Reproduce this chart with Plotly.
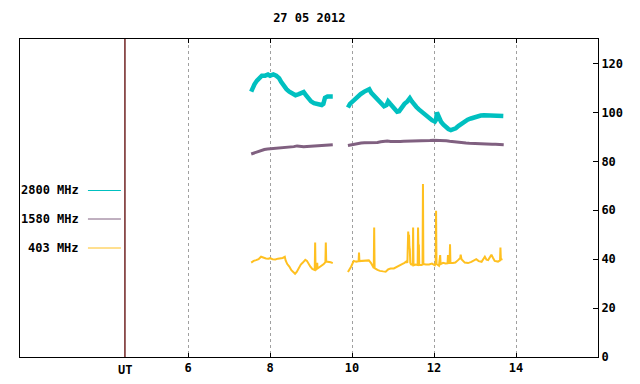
import plotly.graph_objects as go

TITLE = "27 05 2012"
UT_POS = 4.46
X_TICKS = [6, 8, 10, 12, 14]
Y_TICKS = [0, 20, 40, 60, 80, 100, 120]

# 2800 MHz
t2800_a = [7.54, 7.57, 7.62, 7.68, 7.74, 7.80, 7.88, 7.95, 8.00, 8.08, 8.15, 8.22, 8.27, 8.33, 8.40,
           8.47, 8.55, 8.62, 8.70, 8.77, 8.82, 8.88, 8.94, 9.00, 9.07, 9.14, 9.20, 9.26, 9.30, 9.34,
           9.40, 9.47, 9.53]
v2800_a = [108.5, 110.0, 111.5, 113, 114, 115, 115, 115.5, 115, 115.5, 115, 114, 112.5, 111, 109.5,
           108.5, 107.5, 107, 107.5, 108, 108.3, 107, 105.5, 104.5, 103.8, 103.6, 103.5, 103, 103.5, 106,
           106.5, 106.5, 106.5]
t2800_b = [9.90, 9.95, 10.05, 10.13, 10.21, 10.30, 10.37, 10.42, 10.47, 10.53, 10.60, 10.66, 10.72, 10.78,
           10.84, 10.88, 10.93, 10.98, 11.04, 11.10, 11.15, 11.21, 11.28, 11.35, 11.41, 11.46, 11.51, 11.57,
           11.63, 11.70, 11.76, 11.82, 11.88, 11.95, 12.02, 12.05, 12.07, 12.10, 12.17, 12.23, 12.29, 12.35,
           12.41, 12.47, 12.53, 12.60, 12.67, 12.74, 12.82, 12.90, 12.98, 13.06, 13.14, 13.22, 13.31, 13.39,
           13.47, 13.55, 13.63, 13.69]
v2800_b = [102, 103.5, 105, 106.5, 107.5, 108.5, 109.2, 109.5, 108, 107, 106, 104.8, 103.5, 102.5,
           103, 104.5, 103.5, 102.5, 100.8, 100.3, 100.5, 102, 103.5, 104.5, 105.8, 104.5, 103.2, 102.2,
           101.2, 100.2, 99.2, 98.2, 97.5, 96.8, 96.2, 97, 100, 98.5, 96.2, 95, 94, 93.2,
           92.8, 93, 93.5, 94.5, 95.3, 96.3, 97, 97.5, 98, 98.5, 98.7, 98.8, 98.7, 99,
           98.8, 98.8, 98.7, 98.5]

# 1580 MHz
t1580_a = [7.54, 7.62, 7.70, 7.78, 7.86, 7.94, 8.02, 8.10, 8.18, 8.26, 8.34, 8.42, 8.50, 8.58, 8.66,
           8.74, 8.82, 8.90, 8.98, 9.06, 9.14, 9.22, 9.30, 9.38, 9.46, 9.53]
v1580_a = [83.0, 83.5, 83.8, 84.3, 84.8, 85.0, 85.1, 85.2, 85.4, 85.6, 85.7, 85.8, 85.9, 86.0, 86.3,
           86.1, 86.0, 86.1, 86.2, 86.2, 86.3, 86.4, 86.5, 86.5, 86.6, 86.8]
t1580_b = [9.90, 9.98, 10.06, 10.14, 10.22, 10.30, 10.38, 10.46, 10.54, 10.62, 10.70, 10.78, 10.86, 10.94,
           11.02, 11.10, 11.18, 11.26, 11.34, 11.42, 11.50, 11.58, 11.66, 11.74, 11.82, 11.90, 11.98, 12.06,
           12.14, 12.22, 12.30, 12.38, 12.46, 12.54, 12.62, 12.70, 12.78, 12.86, 12.94, 13.02, 13.10, 13.18,
           13.26, 13.34, 13.42, 13.50, 13.58, 13.66, 13.70]
v1580_b = [86.5, 86.8, 87.0, 87.3, 87.5, 87.6, 87.6, 87.7, 87.5, 87.7, 88.0, 88.3, 88.3, 88.1,
           88.0, 88.0, 88.1, 88.2, 88.2, 88.3, 88.3, 88.4, 88.4, 88.5, 88.5, 88.5, 88.6, 88.6,
           88.7, 88.6, 88.4, 88.2, 88.0, 87.8, 87.7, 87.5, 87.5, 87.4, 87.3, 87.3, 87.2, 87.2,
           87.1, 87.1, 87.0, 87.0, 86.9, 86.8, 86.8]

# 403 MHz
t403_a = [7.54, 7.60, 7.66, 7.72, 7.78, 7.84, 7.90, 7.96, 8.00, 8.06, 8.13, 8.19, 8.25, 8.31, 8.36,
          8.38, 8.42, 8.47, 8.52, 8.57, 8.61, 8.65, 8.70, 8.75, 8.80, 8.86, 8.90, 8.94, 8.98, 9.03,
          9.07, 9.09, 9.10, 9.11, 9.14, 9.15, 9.16, 9.23, 9.28, 9.31, 9.35, 9.36, 9.37, 9.43, 9.48, 9.53]
v403_a = [38.6, 39.3, 39.6, 40.0, 41.0, 40.5, 40.3, 40.2, 40.4, 40.0, 39.9, 40.2, 40.3, 40.5, 41.0,
          39.5, 38.0, 37.0, 35.5, 34.5, 34.0, 34.8, 36.3, 37.8, 38.6, 39.7, 39.3, 38.0, 37.0, 36.0,
          35.7, 35.6, 46.8, 35.6, 36.0, 38.5, 36.2, 36.9, 37.6, 38.0, 38.8, 46.8, 39.0, 39.0, 38.7, 38.4]
t403_b = [9.90, 9.94, 9.98, 10.04, 10.10, 10.16, 10.17, 10.18, 10.26, 10.33, 10.41, 10.46, 10.50, 10.53,
          10.54, 10.55, 10.62, 10.68, 10.76, 10.82, 10.88, 10.94, 11.02, 11.10, 11.16, 11.22, 11.28, 11.32,
          11.35, 11.36, 11.37, 11.38, 11.39, 11.40, 11.41, 11.42, 11.44, 11.48, 11.49, 11.50, 11.55, 11.60,
          11.61, 11.62, 11.63, 11.64, 11.70, 11.72, 11.73, 11.74, 11.80, 11.88, 11.95, 12.02, 12.04, 12.05,
          12.06, 12.12, 12.15, 12.16, 12.22, 12.28, 12.33, 12.34, 12.35, 12.38, 12.39, 12.40, 12.46, 12.52,
          12.58, 12.64, 12.65, 12.67, 12.75, 12.83, 12.91, 12.97, 13.03, 13.09, 13.16, 13.24, 13.28, 13.32,
          13.40, 13.44, 13.48, 13.56, 13.61, 13.62, 13.63, 13.67]
v403_b = [34.7, 35.8, 37.0, 39.3, 39.0, 39.2, 42.7, 39.2, 39.3, 39.3, 39.5, 38.5, 37.0, 36.4,
          52.9, 36.3, 35.6, 35.2, 35.0, 34.9, 35.8, 36.2, 36.2, 36.8, 37.5, 38.0, 38.5, 39.0,
          38.5, 47.5, 51.3, 49.0, 50.0, 45.0, 44.0, 38.5, 37.8, 37.6, 52.9, 37.5, 37.8, 37.6,
          52.9, 44.8, 46.0, 37.6, 37.6, 37.8, 70.7, 38.0, 37.8, 37.8, 38.2, 37.5, 38.5, 59.8,
          38.0, 37.3, 41.7, 38.0, 38.5, 38.2, 38.3, 41.7, 38.4, 38.5, 46.1, 38.5, 38.4, 38.6,
          39.5, 40.5, 41.8, 40.0, 38.6, 38.4, 38.9, 39.5, 40.0, 39.2, 38.9, 41.0, 39.8, 39.6,
          41.8, 40.5, 39.3, 39.0, 39.5, 44.8, 39.8, 40.0]

C2800 = "#00c0c0"
C1580 = "#806080"
C403 = "#ffc020"

FONT = "DejaVu Sans Mono"

# the page body has an 8px margin, so the figure is drawn 8px in and 8px down
OFF = 8
W, H = 640 - OFF, 384 - OFF
L, R, T, B = 20 - OFF, 41.5, 39 - OFF, 27
PW = W - L - R
PH = H - T - B

fig = go.Figure()

def add(t, v, color, width):
    fig.add_trace(go.Scatter(x=t, y=v, mode="lines", line=dict(color=color, width=width),
                             showlegend=False, hoverinfo="skip"))

add(t2800_a, v2800_a, C2800, 4.5)
add(t2800_b, v2800_b, C2800, 4.5)
add(t1580_a, v1580_a, C1580, 3)
add(t1580_b, v1580_b, C1580, 3)
add(t403_a, v403_a, C403, 2)
add(t403_b, v403_b, C403, 2)

# UT line
fig.add_shape(type="line", xref="x", yref="paper", x0=UT_POS, x1=UT_POS, y0=0, y1=1,
              line=dict(color="#5a0000", width=1.3), layer="above")

# legend (gnuplot-style key: label then sample); positions in page pixels
legend = [("2800 MHz", C2800, 190.5), ("1580 MHz", C1580, 219), ("403 MHz", C403, 248)]

def px_x(x):
    return (x - OFF - L) / PW

def px_y(y):
    return 1 - (y - OFF - T) / PH

FB = dict(family=FONT, size=12, color="black", weight="bold")
for label, color, ypx in legend:
    yp = px_y(ypx)
    fig.add_annotation(xref="paper", yref="paper", x=px_x(81), y=yp, text=label,
                       showarrow=False, xanchor="right", yanchor="middle", font=FB)
    fig.add_shape(type="line", xref="paper", yref="paper", x0=px_x(88), x1=px_x(121),
                  y0=yp, y1=yp, line=dict(color=color, width=1))

fig.add_annotation(xref="x", yref="paper", x=UT_POS, y=0, yshift=-4, text="UT", showarrow=False,
                   xanchor="center", yanchor="top", font=FB)

fig.update_layout(
    width=W, height=H,
    margin=dict(l=L, r=R, t=T, b=B, autoexpand=False),
    paper_bgcolor="white", plot_bgcolor="white",
    title=dict(text=TITLE, x=(L + PW / 2) / W, xanchor="center", y=1 - (18 - OFF) / H, yanchor="middle",
               font=FB),
    font=FB,
    xaxis=dict(range=[1.9, 16.0], tickvals=X_TICKS, ticktext=[str(v) for v in X_TICKS],
               showgrid=True, gridcolor="#a0a0a0", griddash="dot", gridwidth=1,
               showline=True, linecolor="black", linewidth=1, mirror="ticks",
               ticks="inside", ticklen=4, tickcolor="black", zeroline=False, tickfont=FB),
    yaxis=dict(range=[0, 130], tickvals=Y_TICKS, side="right", showgrid=False,
               showline=True, linecolor="black", linewidth=1, mirror=True,
               ticks="inside", ticklen=5, tickcolor="black", zeroline=False, tickfont=FB),
)

fig.write_html("out.html")
